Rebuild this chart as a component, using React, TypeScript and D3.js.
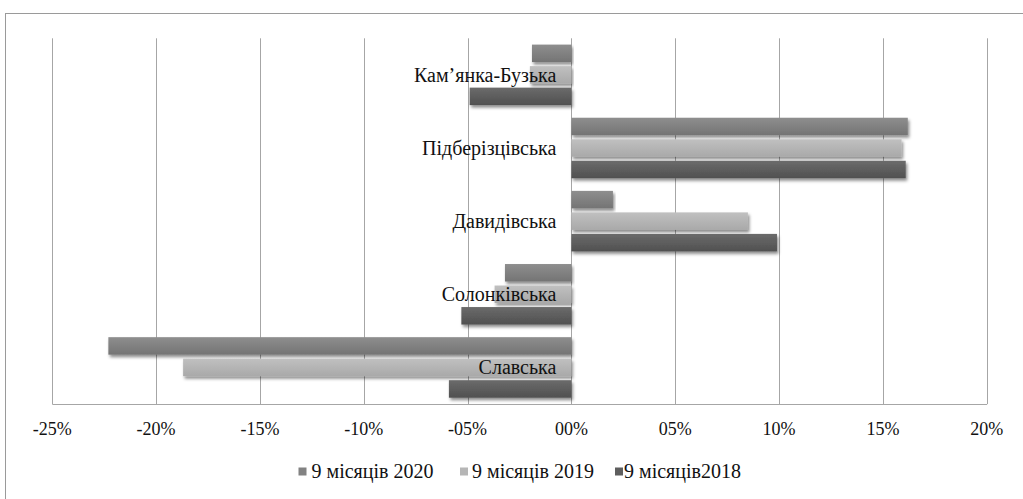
import React from "react";
import * as d3 from "d3";

const categories = [
  "Кам’янка-Бузька",
  "Підберізцівська",
  "Давидівська",
  "Солонківська",
  "Славська",
];
const seriesNames = ["9 місяців 2020", "9 місяців 2019", "9 місяців2018"];
const values2020 = [-1.9, 16.2, 2.0, -3.2, -22.3];
const values2019 = [-2.0, 15.9, 8.5, -3.7, -18.7];
const values2018 = [-4.9, 16.1, 9.9, -5.3, -5.9];
const tickValues = [-25, -20, -15, -10, -5, 0, 5, 10, 15, 20];
const tickLabels = ["-25%", "-20%", "-15%", "-10%", "-05%", "00%", "05%", "10%", "15%", "20%"];

const seriesValues = [values2020, values2019, values2018];
const gradients = [
  { id: "g2020", top: "#8e8e8e", bottom: "#747474", legend: "#828282" },
  { id: "g2019", top: "#c0c0c0", bottom: "#a9a9a9", legend: "#b6b6b6" },
  { id: "g2018", top: "#6b6b6b", bottom: "#505050", legend: "#5e5e5e" },
];

const W = 1023;
const H = 499;
const plot = { left: 52.3, right: 986.7, top: 38.3, bottom: 404 };
const font = "'Liberation Serif', 'Times New Roman', serif";

export default function App() {
  const x = d3.scaleLinear().domain([-25, 20]).range([plot.left, plot.right]);
  const y = d3
    .scaleBand<string>()
    .domain(categories)
    .range([plot.top, plot.bottom])
    .paddingInner(0)
    .paddingOuter(0);
  const inner = d3
    .scaleBand<string>()
    .domain(seriesNames)
    .range([0, y.bandwidth()])
    .paddingInner(0.186)
    .paddingOuter(0.293);

  const legendItems = [
    { markX: 298.5, textX: 311.5 },
    { markX: 460, textX: 472 },
    { markX: 615, textX: 624 },
  ];

  return (
    <svg
      width={W}
      height={H}
      style={{ position: "absolute", left: 0, top: 0, background: "#fff" }}
      fontFamily={font}
    >
      <defs>
        {gradients.map((g) => (
          <linearGradient key={g.id} id={g.id} x1="0" y1="0" x2="0" y2="1">
            <stop offset="0%" stopColor={g.top} />
            <stop offset="100%" stopColor={g.bottom} />
          </linearGradient>
        ))}
        <filter id="shadow" x="-5%" y="-30%" width="110%" height="170%">
          <feDropShadow dx="1.5" dy="2.5" stdDeviation="1.6" floodColor="#000" floodOpacity="0.45" />
        </filter>
      </defs>

      {/* chart frame */}
      <rect x={5.5} y={13.5} width={W + 10} height={H + 10} fill="none" stroke="#9a9a9a" strokeWidth={1} />

      {/* vertical gridlines */}
      {tickValues.map((t) => (
        <line
          key={t}
          x1={Math.round(x(t)) + 0.5}
          x2={Math.round(x(t)) + 0.5}
          y1={plot.top}
          y2={plot.bottom}
          stroke="#a6a6a6"
          strokeWidth={1}
        />
      ))}
      <line x1={plot.left} x2={plot.right + 0.5} y1={plot.bottom + 0.5} y2={plot.bottom + 0.5} stroke="#a6a6a6" />

      {/* bars */}
      {categories.map((c, ci) => (
        <g key={c}>
          {seriesNames.map((s, si) => {
            const v = seriesValues[si][ci];
            const x0 = x(Math.min(0, v));
            const x1 = x(Math.max(0, v));
            return (
              <rect
                key={s}
                x={x0}
                y={(y(c) as number) + (inner(s) as number)}
                width={x1 - x0}
                height={inner.bandwidth()}
                fill={`url(#${gradients[si].id})`}
                filter="url(#shadow)"
              />
            );
          })}
        </g>
      ))}

      {/* category labels */}
      {categories.map((c) => (
        <text
          key={c}
          x={x(0) - 15}
          y={(y(c) as number) + y.bandwidth() / 2}
          dy="0.35em"
          textAnchor="end"
          fontSize={20}
          fill="#111"
        >
          {c}
        </text>
      ))}

      {/* x tick labels */}
      {tickValues.map((t, i) => (
        <text key={t} x={x(t)} y={434.5} textAnchor="middle" fontSize={18} fill="#111">
          {tickLabels[i]}
        </text>
      ))}

      {/* legend */}
      {seriesNames.map((s, i) => (
        <g key={s}>
          <rect x={legendItems[i].markX} y={467.5} width={8} height={8} fill={gradients[i].legend} />
          <text x={legendItems[i].textX} y={478} fontSize={20} fill="#111">
            {s}
          </text>
        </g>
      ))}
    </svg>
  );
}
